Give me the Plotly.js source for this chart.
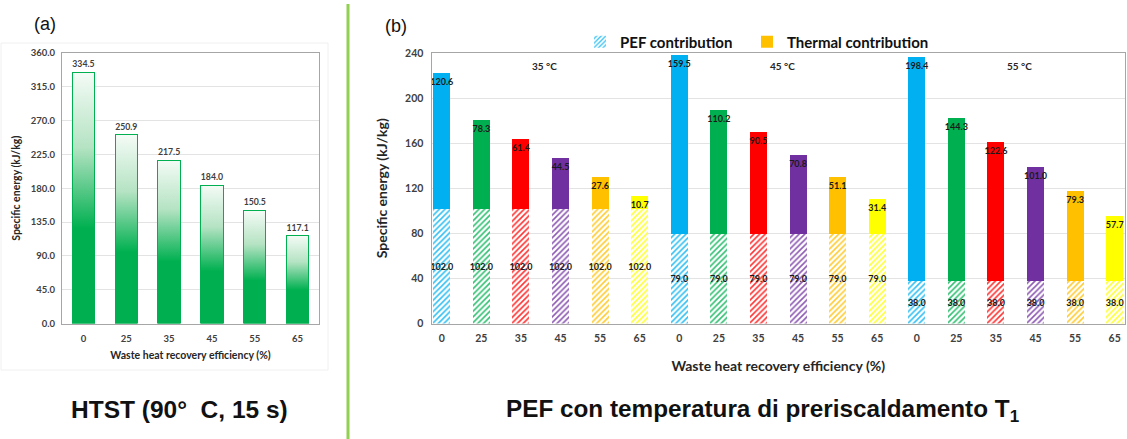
<!DOCTYPE html>
<html>
<head>
<meta charset="utf-8">
<script src="https://cdn.plot.ly/plotly-3.0.1.min.js"></script>
<style>html,body{margin:0;padding:0;background:#fff}#chart{width:1127px;height:439px}</style>
</head>
<body>
<div id="chart"></div>
<script>
// ---- data ----
const efficiencyLabels = ['0', '25', '35', '45', '55', '65'];
const htstEnergy = [334.5, 250.9, 217.5, 184.0, 150.5, 117.1];
const preheatTemps = ['35 °C', '45 °C', '55 °C'];
const pefContribution = [102.0, 79.0, 38.0];          // per preheating temperature
const thermal35 = [120.6, 78.3, 61.4, 44.5, 27.6, 10.7];
const thermal45 = [159.5, 110.2, 90.5, 70.8, 51.1, 31.4];
const thermal55 = [198.4, 144.3, 122.6, 101.0, 79.3, 57.7];
const thermalByTemp = [thermal35, thermal45, thermal55];
const barColors = ['#00b0f0', '#00b050', '#ff0000', '#7030a0', '#ffc000', '#ffff00'];

// ---- styling ----
const FONT = 'Lato, "Open Sans", sans-serif';
const ARIAL = '"Liberation Sans", Arial, sans-serif';
const W = 1127, H = 439;
const px = v => v / W;
const py = v => (H - v) / H;

const nCat = efficiencyLabels.length;
const data = [];

// Left panel: HTST
data.push({
  type: 'bar', x: efficiencyLabels, y: htstEnergy, xaxis: 'x', yaxis: 'y',
  width: 0.52, showlegend: false,
  marker: {color: '#00b050', line: {color: '#00b050', width: 1}},
  text: htstEnergy.map(v => v.toFixed(1)), textposition: 'outside', textangle: 0,
  textfont: {family: FONT, size: 9, color: '#404040', weight: 700},
  cliponaxis: false, hoverinfo: 'skip'
});

// Right panel: PEF contribution (hatched), one trace per colour
const pos = (g, c) => g * nCat + c;
barColors.forEach((col, c) => {
  data.push({
    type: 'bar', xaxis: 'x2', yaxis: 'y2',
    name: 'PEF contribution', legend: 'legend', showlegend: c === 0,
    x: preheatTemps.map((t, g) => pos(g, c)),
    y: pefContribution,
    width: 0.43,
    marker: {color: '#ffffff', line: {width: 0},
      pattern: {shape: '/', fgcolor: col, bgcolor: '#ffffff', size: 4, solidity: 0.4, fgopacity: 0.8}},
    text: pefContribution.map(v => v.toFixed(1)), textposition: 'inside', insidetextanchor: 'middle', textangle: 0,
    constraintext: 'none', insidetextfont: {family: FONT, size: 9, color: '#1a1a1a', weight: 700},
    hoverinfo: 'skip'
  });
});
// Right panel: thermal contribution (solid)
barColors.forEach((col, c) => {
  const vals = thermalByTemp.map(arr => arr[c]);
  data.push({
    type: 'bar', xaxis: 'x2', yaxis: 'y2',
    name: 'Thermal contribution', legend: 'legend2', showlegend: c === 4,
    x: preheatTemps.map((t, g) => pos(g, c)),
    y: vals,
    width: 0.43,
    marker: {color: col, line: {width: 0}},
    text: vals.map(v => v.toFixed(1)), textposition: 'inside', insidetextanchor: 'end', textangle: 0,
    constraintext: 'none', insidetextfont: {family: FONT, size: 9, color: '#1a1a1a', weight: 700},
    hoverinfo: 'skip'
  });
});

const tickvals2 = [], ticktext2 = [];
preheatTemps.forEach((t, g) => efficiencyLabels.forEach((e, c) => { tickvals2.push(pos(g, c)); ticktext2.push(e); }));

const yDom = [py(323.5), py(53)];
const axisTitleFont = (s) => ({family: FONT, size: s, color: '#262626', weight: 700});
const legendStyle = (x) => ({orientation: 'h', x: px(x), xanchor: 'left', y: py(42), yanchor: 'middle',
    font: {family: FONT, size: 15, color: '#111', weight: 700}, bgcolor: 'rgba(0,0,0,0)'});

const layout = {
  width: W, height: H, margin: {l: 0, r: 0, t: 0, b: 0},
  paper_bgcolor: '#ffffff', plot_bgcolor: '#ffffff',
  barmode: 'stack', showlegend: true,
  legend: legendStyle(580),
  legend2: legendStyle(747),
  xaxis: {domain: [px(62), px(319)], anchor: 'y', type: 'category',
    showline: true, linecolor: '#a6a6a6', mirror: true, showgrid: false, ticks: '', ticklabelstandoff: 6,
    tickfont: {family: FONT, size: 9.5, color: '#404040', weight: 700},
    title: {text: 'Waste heat recovery efficiency (%)', font: axisTitleFont(10.5), standoff: 8}},
  yaxis: {domain: yDom, anchor: 'x', range: [0, 360], dtick: 45, tickformat: '.1f',
    showline: true, linecolor: '#a6a6a6', mirror: true, gridcolor: '#e3e3e3', zeroline: false, ticks: '', ticklabelstandoff: 4,
    tickfont: {family: FONT, size: 9.5, color: '#404040', weight: 700},
    title: {text: 'Specific energy (kJ/kg)', font: axisTitleFont(10.5), standoff: 8}},
  xaxis2: {domain: [px(431.5), px(1125)], anchor: 'y2', range: [-0.26, 17.26],
    tickmode: 'array', tickvals: tickvals2, ticktext: ticktext2, ticklabelstandoff: 5,
    showline: true, linecolor: '#a6a6a6', mirror: true, showgrid: false, zeroline: false, ticks: '',
    tickfont: {family: FONT, size: 10.5, color: '#404040', weight: 700},
    title: {text: 'Waste heat recovery efficiency (%)', font: axisTitleFont(14), standoff: 18}},
  yaxis2: {domain: yDom, anchor: 'x2', range: [0, 240], dtick: 40, ticklabelstandoff: 5,
    showline: true, linecolor: '#a6a6a6', mirror: true, gridcolor: '#e3e3e3', zeroline: false, ticks: '',
    tickfont: {family: FONT, size: 10.5, color: '#404040', weight: 700},
    title: {text: 'Specific energy (kJ/kg)', font: axisTitleFont(14), standoff: 14}},
  shapes: [
    {type: 'line', xref: 'paper', yref: 'paper', x0: px(348), x1: px(348), y0: 0, y1: py(4),
      line: {color: '#92d050', width: 3}},
    {type: 'rect', xref: 'paper', yref: 'paper', x0: px(1), x1: px(328), y0: py(370), y1: py(43),
      line: {color: '#f0f0f0', width: 1}, layer: 'below'}
  ],
  annotations: [
    {text: '(a)', xref: 'paper', yref: 'paper', x: px(45), y: py(24), xanchor: 'center', yanchor: 'middle', showarrow: false,
      font: {family: ARIAL, size: 18, color: '#111'}},
    {text: '(b)', xref: 'paper', yref: 'paper', x: px(396), y: py(26), xanchor: 'center', yanchor: 'middle', showarrow: false,
      font: {family: ARIAL, size: 18, color: '#111'}},
    {text: 'HTST (90°\u00a0 C, 15 s)', xref: 'paper', yref: 'paper', x: px(179), y: py(409), xanchor: 'center', yanchor: 'middle', showarrow: false,
      font: {family: ARIAL, size: 24.5, color: '#111', weight: 700}},
    {text: 'PEF con temperatura di preriscaldamento T<sub>1</sub>', xref: 'paper', yref: 'paper', x: px(762), y: py(410), xanchor: 'center', yanchor: 'middle', showarrow: false,
      font: {family: ARIAL, size: 24.3, color: '#111', weight: 700}}
  ].concat(preheatTemps.map((t, g) => ({
      text: t, xref: 'x2', yref: 'paper', x: pos(g, 2.6), y: py(66), xanchor: 'center', yanchor: 'middle', showarrow: false,
      font: {family: FONT, size: 10, color: '#262626', weight: 700}})))
};

Plotly.newPlot('chart', data, layout, {staticPlot: true}).then(gd => {
  const ns = 'http://www.w3.org/2000/svg';
  const svg = gd.querySelector('svg.main-svg');
  let defs = svg.querySelector('defs');
  if (!defs) { defs = document.createElementNS(ns, 'defs'); svg.insertBefore(defs, svg.firstChild); }
  const lg = document.createElementNS(ns, 'linearGradient');
  lg.setAttribute('id', 'htstGrad');
  lg.setAttribute('x1', '0'); lg.setAttribute('y1', '0'); lg.setAttribute('x2', '0'); lg.setAttribute('y2', '1');
  [[0, '#f4fbf6'], [0.3, '#b5e3c3'], [0.62, '#00b050'], [1, '#00b050']].forEach(([o, c]) => {
    const s = document.createElementNS(ns, 'stop');
    s.setAttribute('offset', o); s.setAttribute('stop-color', c);
    lg.appendChild(s);
  });
  defs.appendChild(lg);
  gd.querySelectorAll('g.subplot.xy g.barlayer path').forEach(p => { p.style.fill = 'url(#htstGrad)'; });
});
</script>
</body>
</html>
